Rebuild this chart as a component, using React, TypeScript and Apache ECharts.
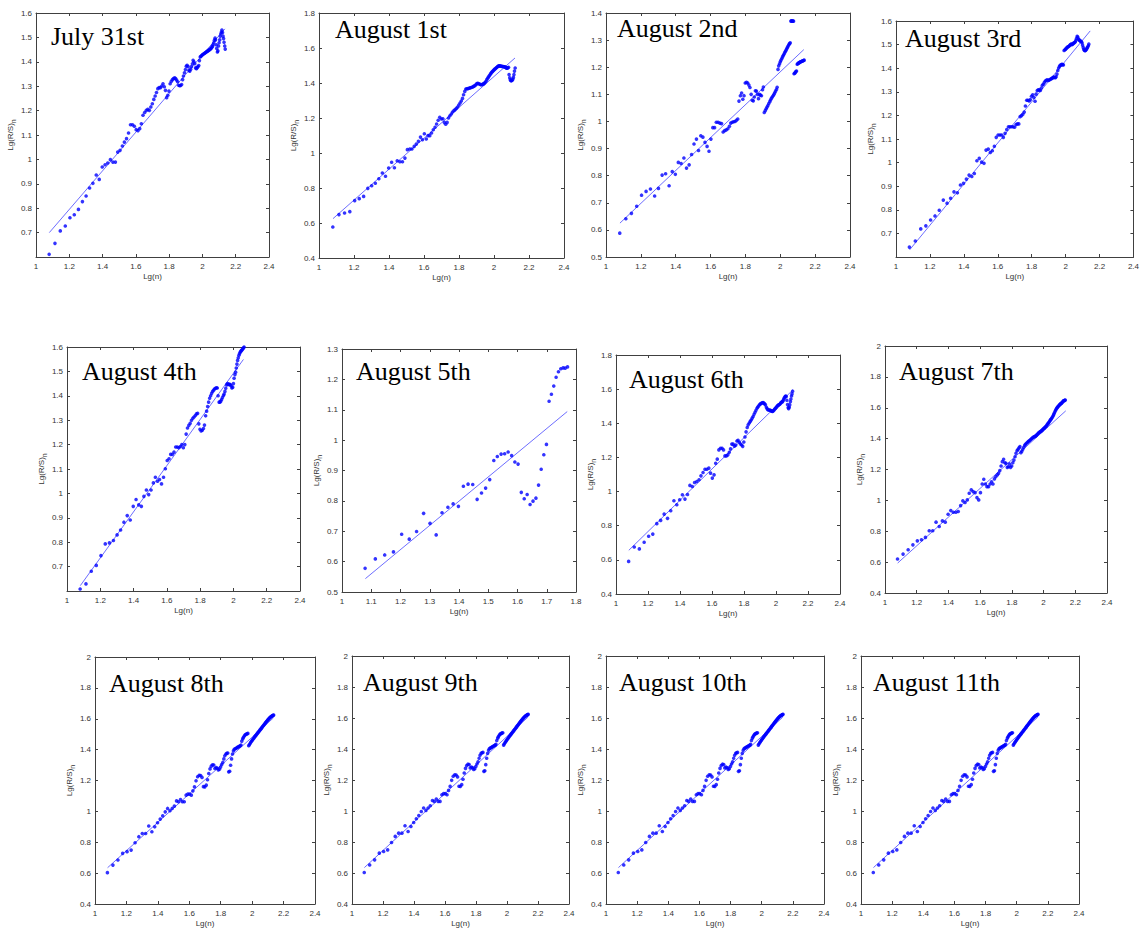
import React, { useEffect, useRef } from "react";
import * as echarts from "echarts";

// Lg(n) for n = 12 … 137 (x positions of the R/S points)
const LGN = [
  1.079, 1.114, 1.146, 1.176, 1.204, 1.230, 1.255, 1.279, 1.301, 1.322,
  1.342, 1.362, 1.380, 1.398, 1.415, 1.431, 1.447, 1.462, 1.477, 1.491,
  1.505, 1.519, 1.531, 1.544, 1.556, 1.568, 1.580, 1.591, 1.602, 1.613,
  1.623, 1.633, 1.643, 1.653, 1.663, 1.672, 1.681, 1.690, 1.699, 1.708,
  1.716, 1.724, 1.732, 1.740, 1.748, 1.756, 1.763, 1.771, 1.778, 1.785,
  1.792, 1.799, 1.806, 1.813, 1.820, 1.826, 1.833, 1.839, 1.845, 1.851,
  1.857, 1.863, 1.869, 1.875, 1.881, 1.886, 1.892, 1.898, 1.903, 1.908,
  1.914, 1.919, 1.924, 1.929, 1.934, 1.940, 1.944, 1.949, 1.954, 1.959,
  1.964, 1.968, 1.973, 1.978, 1.982, 1.987, 1.991, 1.996, 2.000, 2.004,
  2.009, 2.013, 2.017, 2.021, 2.025, 2.029, 2.033, 2.037, 2.041, 2.045,
  2.049, 2.053, 2.057, 2.061, 2.064, 2.068, 2.072, 2.076, 2.079, 2.083,
  2.086, 2.090, 2.093, 2.097, 2.100, 2.104, 2.107, 2.111, 2.114, 2.117,
  2.121, 2.124, 2.127, 2.130, 2.134, 2.137,
];

// Lg(R/S)n values, one per Lg(n) above, per day
const july31 = [
  0.611, 0.656, 0.707, 0.727, 0.761, 0.773, 0.795, 0.827, 0.850, 0.883,
  0.902, 0.936, 0.918, 0.969, 0.978, 0.985, 0.999, 0.989, 0.989, 1.030,
  1.037, 1.055, 1.071, 1.085, 1.108, 1.142, 1.142, 1.136, 1.122, 1.118,
  1.126, 1.146, 1.181, 1.192, 1.201, 1.205, 1.201, 1.215, 1.228, 1.246,
  1.260, 1.274, 1.290, 1.294, 1.294, 1.301, 1.310, 1.298, 1.283, 1.253,
  1.263, 1.280, 1.310, 1.320, 1.327, 1.331, 1.334, 1.331, 1.325, 1.318,
  1.304, 1.302, 1.303, 1.307, 1.327, 1.342, 1.355, 1.368, 1.382, 1.386,
  1.380, 1.365, 1.362, 1.369, 1.380, 1.392, 1.406, 1.400, 1.392, 1.375,
  1.372, 1.376, 1.380, 1.385, 1.405, 1.420, 1.423, 1.426, 1.429, 1.431,
  1.433, 1.435, 1.437, 1.439, 1.441, 1.443, 1.445, 1.447, 1.449, 1.451,
  1.453, 1.456, 1.460, 1.464, 1.470, 1.478, 1.488, 1.497, 1.490, 1.470,
  1.455, 1.440, 1.445, 1.465, 1.478, 1.490, 1.505, 1.515, 1.522, 1.530,
  1.520, 1.505, 1.495, 1.480, 1.465, 1.452,
];
const aug1 = [
  0.577, 0.648, 0.657, 0.665, 0.728, 0.739, 0.752, 0.798, 0.813, 0.827,
  0.853, 0.886, 0.867, 0.914, 0.947, 0.916, 0.956, 0.950, 0.950, 0.971,
  1.019, 1.023, 1.023, 1.038, 1.051, 1.067, 1.091, 1.076, 1.110, 1.080,
  1.099, 1.099, 1.114, 1.133, 1.147, 1.166, 1.187, 1.204, 1.194, 1.196,
  1.175, 1.164, 1.175, 1.200, 1.213, 1.223, 1.234, 1.242, 1.248, 1.255,
  1.263, 1.274, 1.286, 1.297, 1.312, 1.333, 1.352, 1.366, 1.367, 1.368,
  1.370, 1.372, 1.374, 1.376, 1.379, 1.382, 1.386, 1.392, 1.397, 1.398,
  1.396, 1.393, 1.391, 1.390, 1.392, 1.395, 1.398, 1.403, 1.410, 1.419,
  1.427, 1.434, 1.441, 1.448, 1.455, 1.461, 1.466, 1.471, 1.475, 1.479,
  1.483, 1.487, 1.490, 1.494, 1.497, 1.498, 1.498, 1.497, 1.496, 1.495,
  1.494, 1.494, 1.493, 1.493, 1.491, 1.488, 1.485, 1.484, 1.487, 1.490,
  1.448, 1.430, 1.418, 1.413, 1.413, 1.416, 1.422, 1.432, 1.448, 1.468,
  1.486,
];
const aug2 = [
  0.588, 0.641, 0.661, 0.687, 0.728, 0.742, 0.751, 0.725, 0.753, 0.802,
  0.807, 0.763, 0.815, 0.805, 0.849, 0.845, 0.865, 0.828, 0.840, 0.878,
  0.917, 0.935, 0.893, 0.947, 0.942, 0.923, 0.908, 0.890, 0.935, 0.977,
  0.977, 0.997, 0.997, 0.994, 0.992, 0.961, 0.966, 0.969, 0.973, 0.982,
  0.994, 0.997, 0.999, 1.000, 1.004, 1.009, 1.075, 1.095, 1.105, 1.082,
  1.095, 1.142, 1.144, 1.142, 1.134, 1.125, 1.100, 1.078, 1.076, 1.090,
  1.113, 1.112, 1.100, 1.084, 1.100, 1.097, 1.095, 1.117, 1.127, 1.033,
  1.040, 1.047, 1.053, 1.059, 1.066, 1.073, 1.079, 1.085, 1.090, 1.095,
  1.100, 1.106, 1.112, 1.118, 1.126, 1.192, 1.205, 1.213, 1.220, 1.226,
  1.232, 1.238, 1.243, 1.248, 1.253, 1.258, 1.263, 1.268, 1.273, 1.278,
  1.283, 1.287, 1.290, 1.370, 1.371, 1.371, 1.370, 1.370, 1.176, 1.178,
  1.181, 1.184, 1.186, 1.211, 1.213, 1.215, 1.216, 1.218, 1.219, 1.220,
  1.221, 1.222, 1.223, 1.224, 1.225, 1.226,
];
const aug3 = [
  0.642, 0.668, 0.719, 0.732, 0.757, 0.774, 0.798, 0.841, 0.828, 0.849,
  0.876, 0.872, 0.905, 0.912, 0.930, 0.947, 0.941, 0.954, 1.008, 1.018,
  1.002, 0.997, 1.053, 1.057, 1.043, 1.050, 1.069, 1.107, 1.117, 1.117,
  1.117, 1.107, 1.124, 1.140, 1.152, 1.152, 1.152, 1.152, 1.150, 1.161,
  1.164, 1.164, 1.195, 1.199, 1.205, 1.214, 1.240, 1.264, 1.264, 1.261,
  1.267, 1.281, 1.287, 1.276, 1.260, 1.290, 1.305, 1.308, 1.308, 1.306,
  1.316, 1.328, 1.332, 1.340, 1.346, 1.349, 1.351, 1.348, 1.350, 1.352,
  1.355, 1.357, 1.359, 1.362, 1.361, 1.360, 1.364, 1.375, 1.390, 1.401,
  1.408, 1.412, 1.414, 1.416, 1.415, 1.414, 1.475, 1.478, 1.481, 1.484,
  1.488, 1.490, 1.492, 1.494, 1.497, 1.500, 1.502, 1.500, 1.502, 1.505,
  1.507, 1.509, 1.512, 1.518, 1.526, 1.535, 1.532, 1.524, 1.520, 1.518,
  1.516, 1.514, 1.512, 1.508, 1.498, 1.488, 1.480, 1.476, 1.474, 1.475,
  1.478, 1.482, 1.486, 1.490, 1.495, 1.502,
];
const aug4 = [
  0.608, 0.629, 0.681, 0.705, 0.745, 0.793, 0.797, 0.807, 0.830, 0.850,
  0.882, 0.909, 0.891, 0.947, 0.975, 0.953, 0.947, 0.988, 1.014, 0.995,
  1.014, 1.043, 1.066, 1.050, 1.057, 1.039, 1.066, 1.101, 1.135, 1.142,
  1.160, 1.160, 1.169, 1.190, 1.190, 1.187, 1.192, 1.200, 1.187, 1.200,
  1.243, 1.268, 1.279, 1.287, 1.300, 1.308, 1.313, 1.319, 1.326, 1.328,
  1.285, 1.263, 1.256, 1.259, 1.266, 1.280, 1.318, 1.337, 1.356, 1.374,
  1.390, 1.400, 1.410, 1.418, 1.423, 1.428, 1.431, 1.433, 1.432, 1.400,
  1.374, 1.374, 1.378, 1.385, 1.393, 1.401, 1.407, 1.418, 1.431, 1.445,
  1.450, 1.447, 1.447, 1.447, 1.445, 1.440, 1.432, 1.435, 1.450, 1.472,
  1.487, 1.497, 1.514, 1.530, 1.545, 1.556, 1.566, 1.573, 1.579, 1.583,
  1.586, 1.590, 1.593, 1.597, 1.600,
];
const aug5 = [
  0.578, 0.609, 0.622, 0.632, 0.690, 0.674, 0.699, 0.759, 0.726, 0.688,
  0.761, 0.779, 0.790, 0.782, 0.848, 0.855, 0.854, 0.805, 0.826, 0.842,
  0.870, 0.933, 0.946, 0.954, 0.955, 0.961, 0.949, 0.928, 0.921, 0.828,
  0.807, 0.821, 0.788, 0.799, 0.809, 0.852, 0.904, 0.952, 0.986, 1.128,
  1.151, 1.178, 1.207, 1.225, 1.235, 1.238, 1.237, 1.241,
];
const aug6 = [
  0.591, 0.675, 0.664, 0.703, 0.738, 0.751, 0.812, 0.831, 0.868, 0.843,
  0.888, 0.946, 0.923, 0.952, 0.981, 0.956, 0.983, 1.036, 1.030, 1.053,
  1.059, 1.069, 1.092, 1.112, 1.131, 1.131, 1.137, 1.108, 1.079, 1.098,
  1.166, 1.190, 1.244, 1.254, 1.254, 1.244, 1.209, 1.209, 1.215, 1.230,
  1.250, 1.278, 1.278, 1.266, 1.272, 1.296, 1.300, 1.289, 1.279, 1.273,
  1.265, 1.290, 1.320, 1.350, 1.375, 1.391, 1.402, 1.411, 1.419, 1.430,
  1.440, 1.453, 1.465, 1.476, 1.488, 1.495, 1.502, 1.510, 1.514, 1.517,
  1.520, 1.521, 1.518, 1.514, 1.508, 1.494, 1.486, 1.480, 1.478, 1.478,
  1.476, 1.474, 1.471, 1.469, 1.472, 1.476, 1.482, 1.487, 1.491, 1.496,
  1.502, 1.505, 1.508, 1.510, 1.513, 1.518, 1.523, 1.525, 1.527, 1.534,
  1.543, 1.550, 1.557, 1.560, 1.557, 1.535, 1.510, 1.492, 1.486, 1.494,
  1.508, 1.527, 1.542, 1.560, 1.572, 1.588,
];
const aug7 = [
  0.620, 0.652, 0.680, 0.712, 0.738, 0.745, 0.760, 0.803, 0.803, 0.859,
  0.831, 0.867, 0.859, 0.910, 0.934, 0.923, 0.923, 0.928, 0.966, 0.997,
  0.986, 1.003, 1.046, 1.068, 1.057, 1.050, 1.018, 1.003, 1.050, 1.106,
  1.137, 1.106, 1.089, 1.089, 1.106, 1.121, 1.106, 1.139, 1.154, 1.165,
  1.175, 1.193, 1.223, 1.251, 1.266, 1.244, 1.240, 1.214, 1.218, 1.236,
  1.214, 1.223, 1.244, 1.261, 1.283, 1.305, 1.322, 1.330, 1.340, 1.348,
  1.309, 1.318, 1.331, 1.344, 1.356, 1.363, 1.370, 1.375, 1.381, 1.385,
  1.389, 1.394, 1.399, 1.404, 1.408, 1.411, 1.414, 1.416, 1.421, 1.426,
  1.432, 1.436, 1.441, 1.444, 1.447, 1.450, 1.455, 1.460, 1.464, 1.468,
  1.473, 1.477, 1.481, 1.488, 1.494, 1.499, 1.504, 1.511, 1.518, 1.523,
  1.529, 1.535, 1.542, 1.550, 1.557, 1.566, 1.575, 1.584, 1.590, 1.597,
  1.601, 1.606, 1.610, 1.615, 1.618, 1.622, 1.625, 1.628, 1.631, 1.634,
  1.639, 1.643, 1.645, 1.647, 1.648, 1.650,
];
// August 8th – 11th panels show the same series
const aug8to11 = [
  0.603, 0.652, 0.685, 0.728, 0.739, 0.749, 0.797, 0.836, 0.857, 0.857,
  0.905, 0.868, 0.900, 0.926, 0.950, 0.971, 0.997, 1.019, 1.004, 1.019,
  1.034, 1.068, 1.062, 1.077, 1.062, 1.062, 1.105, 1.112, 1.112, 1.105,
  1.133, 1.159, 1.198, 1.224, 1.234, 1.232, 1.220, 1.160, 1.159, 1.170,
  1.205, 1.245, 1.275, 1.293, 1.302, 1.300, 1.278, 1.284, 1.279, 1.268,
  1.273, 1.287, 1.303, 1.317, 1.340, 1.360, 1.372, 1.376, 1.378, 1.256,
  1.260, 1.299, 1.340, 1.372, 1.392, 1.402, 1.406, 1.409, 1.412, 1.416,
  1.419, 1.422, 1.425, 1.430, 1.455, 1.470, 1.478, 1.487, 1.494, 1.498,
  1.501, 1.503, 1.505, 1.425, 1.432, 1.440, 1.447, 1.454, 1.460, 1.466,
  1.472, 1.478, 1.484, 1.489, 1.494, 1.499, 1.505, 1.510, 1.515, 1.520,
  1.526, 1.531, 1.536, 1.541, 1.546, 1.551, 1.556, 1.561, 1.566, 1.571,
  1.575, 1.580, 1.584, 1.589, 1.593, 1.597, 1.601, 1.605, 1.608, 1.611,
  1.614, 1.616, 1.618, 1.620, 1.622, 1.624,
];

// fitted straight lines: [start, end]
const fitJuly31 = [[1.08, 0.70], [2.135, 1.535]];
const fitAug1 = [[1.08, 0.625], [2.12, 1.543]];
const fitAug2 = [[1.08, 0.625], [2.135, 1.265]];
const fitAug3 = [[1.08, 0.63], [2.145, 1.558]];
const fitAug4 = [[1.08, 0.622], [2.06, 1.549]];
const fitAug5 = [[1.08, 0.544], [1.77, 1.094]];
const fitAug6 = [[1.08, 0.656], [2.105, 1.595]];
const fitAug7 = [[1.08, 0.594], [2.14, 1.58]];
const fitAug8to11 = [[1.08, 0.635], [2.135, 1.605]];

const titles = [
  "July 31st", "August 1st", "August 2nd", "August 3rd",
  "August 4th", "August 5th", "August 6th", "August 7th",
  "August 8th", "August 9th", "August 10th", "August 11th",
];
const seriesY = [july31, aug1, aug2, aug3, aug4, aug5, aug6, aug7, aug8to11, aug8to11, aug8to11, aug8to11];
const fits = [fitJuly31, fitAug1, fitAug2, fitAug3, fitAug4, fitAug5, fitAug6, fitAug7, fitAug8to11, fitAug8to11, fitAug8to11, fitAug8to11];
// axis ranges: [xMax, xInterval, yMin, yMax, yInterval]
const axisRanges = [
  [2.4, 0.2, 0.6, 1.6, 0.1],
  [2.4, 0.2, 0.4, 1.8, 0.2],
  [2.4, 0.2, 0.5, 1.4, 0.1],
  [2.4, 0.2, 0.6, 1.6, 0.1],
  [2.4, 0.2, 0.6, 1.6, 0.1],
  [1.8, 0.1, 0.5, 1.3, 0.1],
  [2.4, 0.2, 0.4, 1.8, 0.2],
  [2.4, 0.2, 0.4, 2.0, 0.2],
  [2.4, 0.2, 0.4, 2.0, 0.2],
  [2.4, 0.2, 0.4, 2.0, 0.2],
  [2.4, 0.2, 0.4, 2.0, 0.2],
  [2.4, 0.2, 0.4, 2.0, 0.2],
];
const hideMinY = [true, false, false, true, true, false, false, false, false, false, false, false];

// layout (pixels): [left, top, width, height]
const gridBoxes = [
  [36, 13, 233, 244], [319, 13, 245, 245], [606, 13, 244, 244], [896, 21, 241, 236],
  [67, 347, 233, 244], [342, 349, 234, 243], [616, 355, 224, 239], [885, 346, 222, 247],
  [95, 657, 220, 247], [352, 656, 217, 248], [606, 656, 218, 248], [861, 656, 218, 248],
];
// title anchor [left, top]
const titlePos = [
  [51, 23], [335, 16], [617, 15], [905, 25],
  [82, 358], [356, 358], [629, 366], [899, 358],
  [109, 670], [363, 669], [619, 669], [873, 669],
];

const SANS = "'Liberation Sans Narrow', 'Liberation Sans', Arial, sans-serif";
const AXIS_COLOR = "#404040";
const LABEL_COLOR = "#333333";

export default function App() {
  const ref = useRef<HTMLDivElement>(null);
  useEffect(() => {
    if (!ref.current) return;
    const chart = echarts.init(ref.current, null, { renderer: "svg" });
    const grid: any[] = [];
    const xAxis: any[] = [];
    const yAxis: any[] = [];
    const series: any[] = [];
    const graphic: any[] = [];

    titles.forEach((title, i) => {
      const [l, t, w, h] = gridBoxes[i];
      const [xMax, xInt, yMin, yMax, yInt] = axisRanges[i];
      grid.push({ left: l, top: t, width: w, height: h, show: false });
      const baseAxis = {
        type: "value",
        gridIndex: i,
        axisLine: { show: true, onZero: false, lineStyle: { color: AXIS_COLOR, width: 1 } },
        axisTick: { show: true, inside: true, length: 3, lineStyle: { color: AXIS_COLOR, width: 1 } },
        splitLine: { show: false },
      };
      xAxis.push({
        ...baseAxis,
        position: "bottom",
        min: 1,
        max: xMax,
        interval: xInt,
        name: "Lg(n)",
        nameLocation: "middle",
        nameGap: 15,
        nameTextStyle: { fontSize: 8, color: LABEL_COLOR, fontFamily: SANS },
        axisLabel: { fontSize: 8, color: LABEL_COLOR, fontFamily: SANS, margin: 5 },
      });
      xAxis.push({
        ...baseAxis,
        position: "top",
        min: 1,
        max: xMax,
        interval: xInt,
        axisLabel: { show: false },
      });
      yAxis.push({
        ...baseAxis,
        position: "left",
        min: yMin,
        max: yMax,
        interval: yInt,
        name: "{a|Lg(R/S)}{b|n}",
        nameLocation: "middle",
        nameRotate: 90,
        nameGap: 19,
        nameTextStyle: {
          rich: {
            a: { fontSize: 8, color: LABEL_COLOR, fontFamily: SANS, lineHeight: 10, verticalAlign: "top" },
            b: { fontSize: 7, color: LABEL_COLOR, fontFamily: SANS, lineHeight: 10, verticalAlign: "bottom", padding: [4, 0, 0, 0] },
          },
        },
        axisLabel: { fontSize: 8, color: LABEL_COLOR, fontFamily: SANS, margin: 4, showMinLabel: !hideMinY[i] },
      });
      yAxis.push({
        ...baseAxis,
        position: "right",
        min: yMin,
        max: yMax,
        interval: yInt,
        axisLabel: { show: false },
      });
      const ys = seriesY[i];
      series.push({
        type: "scatter",
        xAxisIndex: 2 * i,
        yAxisIndex: 2 * i,
        data: ys.map((v, k) => [LGN[k], v]),
        symbol: "circle",
        symbolSize: 3.6,
        itemStyle: { color: "#0000ff" },
        silent: true,
        z: 3,
      });
      series.push({
        type: "line",
        xAxisIndex: 2 * i,
        yAxisIndex: 2 * i,
        data: fits[i],
        symbol: "none",
        lineStyle: { color: "#5c5cff", width: 0.9 },
        silent: true,
        z: 2,
      });
      graphic.push({
        type: "text",
        left: titlePos[i][0],
        top: titlePos[i][1],
        style: {
          text: title,
          fill: "#000",
          font: "26px 'Liberation Serif', 'Times New Roman', serif",
        },
        z: 10,
      });
    });

    chart.setOption({
      animation: false,
      backgroundColor: "#ffffff",
      grid,
      xAxis,
      yAxis,
      series,
      graphic,
    });
    return () => chart.dispose();
  }, []);
  return (
    <div
      ref={ref}
      style={{ position: "absolute", left: 0, top: 0, width: 1142, height: 931, background: "#fff" }}
    />
  );
}
